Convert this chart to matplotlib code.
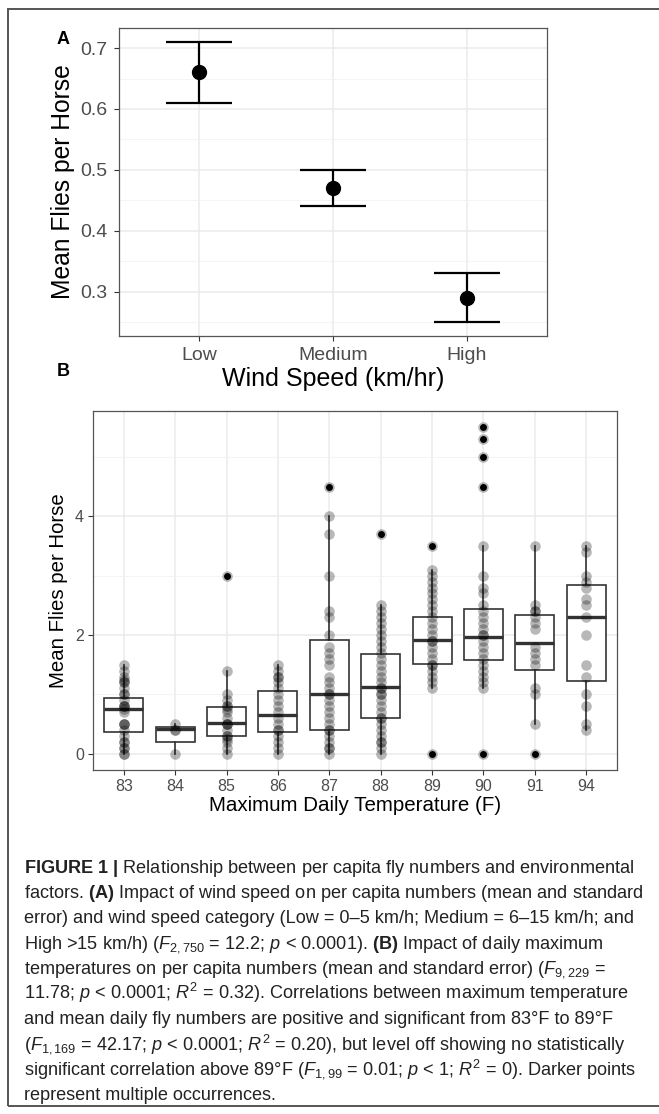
import matplotlib

matplotlib.use("Agg")
import matplotlib.pyplot as plt
import numpy as np
from matplotlib.patches import Rectangle

# panel A: wind speed
WIND_CATEGORIES = ["Low", "Medium", "High"]
WIND_MEAN = [0.66, 0.47, 0.29]
WIND_LOWER = [0.61, 0.44, 0.25]
WIND_UPPER = [0.71, 0.50, 0.33]

# panel B: max daily temperature
TEMPERATURES = ["83", "84", "85", "86", "87", "88", "89", "90", "91", "94"]

FLIES_83 = [0, 0, 0.1, 0.1, 0.2, 0.2, 0.3, 0.4, 0.5, 0.5, 0.5, 0.7, 0.75, 0.8, 0.8,
            0.8, 0.9, 1.0, 1.0, 1.1, 1.2, 1.2, 1.25, 1.3, 1.4, 1.5]
FLIES_84 = [0, 0.4, 0.4, 0.5]
FLIES_85 = [0, 0.1, 0.2, 0.25, 0.3, 0.3, 0.4, 0.5, 0.5, 0.5, 0.6, 0.7, 0.75, 0.8, 0.8,
            0.9, 1.0, 1.4, 3.0]
FLIES_86 = [0, 0.1, 0.2, 0.3, 0.4, 0.4, 0.5, 0.6, 0.7, 0.8, 0.9, 1.0, 1.1, 1.2, 1.3,
            1.3, 1.4, 1.5]
FLIES_87 = [0, 0.1, 0.1, 0.2, 0.3, 0.4, 0.4, 0.5, 0.6, 0.7, 0.8, 0.9, 1.0, 1.0, 1.1,
            1.2, 1.3, 1.5, 1.6, 1.7, 1.8, 2.0, 2.3, 2.4, 3.0, 3.7, 4.0, 4.5]
FLIES_88 = [0, 0.1, 0.2, 0.2, 0.3, 0.4, 0.5, 0.6, 0.6, 0.7, 0.8, 0.9, 1.0, 1.0, 1.1,
            1.1, 1.2, 1.3, 1.4, 1.5, 1.6, 1.7, 1.8, 1.9, 2.0, 2.1, 2.2, 2.3, 2.4, 2.5, 3.7]
FLIES_89 = [0, 1.1, 1.2, 1.3, 1.4, 1.5, 1.5, 1.6, 1.7, 1.8, 1.9, 1.9, 2.0, 2.1, 2.2,
            2.3, 2.4, 2.5, 2.6, 2.7, 2.8, 2.9, 3.0, 3.1, 3.5]
FLIES_90 = [0, 1.1, 1.2, 1.3, 1.4, 1.5, 1.6, 1.7, 1.8, 1.9, 2.0, 2.0, 2.1, 2.2, 2.3,
            2.4, 2.5, 2.7, 2.8, 3.0, 3.5, 4.5, 5.0, 5.3, 5.5]
FLIES_91 = [0, 0.5, 1.0, 1.1, 1.5, 1.6, 1.7, 1.8, 2.1, 2.2, 2.3, 2.4, 2.4, 2.5, 3.5]
FLIES_94 = [0.4, 0.5, 0.8, 1.0, 1.3, 1.5, 2.0, 2.3, 2.5, 2.6, 2.8, 2.9, 3.0, 3.4, 3.5]

BOX_Q1 = [0.37, 0.20, 0.30, 0.37, 0.40, 0.605, 1.505, 1.58, 1.41, 1.23]
BOX_MED = [0.75, 0.41, 0.51, 0.66, 1.01, 1.12, 1.92, 1.96, 1.86, 2.31]
BOX_Q3 = [0.93, 0.45, 0.785, 1.055, 1.91, 1.68, 2.31, 2.43, 2.34, 2.84]
WHISK_LO = [0, 0, 0, 0, 0, 0, 1.1, 1.1, 0.5, 0.4]
WHISK_HI = [1.5, 0.5, 1.4, 1.5, 4.0, 2.5, 3.1, 3.5, 3.5, 3.5]
OUTLIERS = [[], [], [3.0], [], [4.5], [3.7], [0, 3.5], [0, 4.5, 5.0, 5.3, 5.5], [0], []]

CAPTION = [
    r"$\mathbf{FIGURE\ 1\ |}$ Relationship between per capita fly numbers and environmental",
    r"factors. $\mathbf{(A)}$ Impact of wind speed on per capita numbers (mean and standard",
    "error) and wind speed category (Low = 0–5 km/h; Medium = 6–15 km/h; and",
    r"High >15 km/h) ($F_{2,750}$ = 12.2; $p$ < 0.0001). $\mathbf{(B)}$ Impact of daily maximum",
    r"temperatures on per capita numbers (mean and standard error) ($F_{9,229}$ =",
    r"11.78; $p$ < 0.0001; $R^2$ = 0.32). Correlations between maximum temperature",
    "and mean daily fly numbers are positive and significant from 83°F to 89°F",
    r"($F_{1,169}$ = 42.17; $p$ < 0.0001; $R^2$ = 0.20), but level off showing no statistically",
    r"significant correlation above 89°F ($F_{1,99}$ = 0.01; $p$ < 1; $R^2$ = 0). Darker points",
    "represent multiple occurrences.",
]

W, H = 659, 1114
GRID = "#EBEBEB"
DARK = "#333333"
TICK = "#4D4D4D"

plt.rcParams["font.family"] = ["Liberation Sans", "DejaVu Sans"]
plt.rcParams["mathtext.fontset"] = "custom"
plt.rcParams["mathtext.rm"] = "Liberation Sans"
plt.rcParams["mathtext.it"] = "Liberation Sans:italic"
plt.rcParams["mathtext.bf"] = "Liberation Sans:bold"


def box(left, top, right, bottom):
    return [left / W, 1 - bottom / H, (right - left) / W, (bottom - top) / H]


def style_axes(ax, tick_size, pad):
    for spine in ax.spines.values():
        spine.set_color("#555555")
        spine.set_linewidth(0.9)
    ax.tick_params(which="major", length=3.6, width=0.8, color=DARK,
                   labelcolor=TICK, labelsize=tick_size, pad=pad)
    ax.tick_params(which="minor", length=0)
    ax.grid(which="major", color=GRID, linewidth=1.1)
    ax.grid(which="minor", axis="y", color="#F2F2F2", linewidth=0.6)
    ax.set_axisbelow(True)


fig = plt.figure(figsize=(W / 100, H / 100), dpi=100)

# outer frame, open on the right edge
fig.add_artist(Rectangle((8 / W, 1 - 1106 / H), 1.0, (1106 - 9) / H,
                         transform=fig.transFigure, fill=False,
                         edgecolor="#555555", linewidth=1.4))

# ---- panel A
ax1 = fig.add_axes(box(119, 28, 547, 336))
xa = np.arange(1, len(WIND_CATEGORIES) + 1)
yerr = [np.subtract(WIND_MEAN, WIND_LOWER), np.subtract(WIND_UPPER, WIND_MEAN)]
ax1.errorbar(xa, WIND_MEAN, yerr=yerr, fmt="o", color="black", markersize=10,
             capsize=24, capthick=1.6, elinewidth=1.6, zorder=3)
ax1.set_xlim(0.4, 3.6)
ax1.set_ylim(0.227, 0.733)
ax1.set_xticks(xa, WIND_CATEGORIES)
ax1.set_yticks([0.3, 0.4, 0.5, 0.6, 0.7], ["0.3", "0.4", "0.5", "0.6", "0.7"])
ax1.set_yticks([0.25, 0.35, 0.45, 0.55, 0.65], minor=True)
style_axes(ax1, 14, 4.5)
ax1.set_ylabel("Mean Flies per Horse", fontsize=17.7, labelpad=4)
ax1.set_xlabel("Wind Speed (km/hr)", fontsize=18, labelpad=2)
fig.text(63 / W, 1 - 39 / H, "A", fontsize=13, fontweight="bold", ha="center", va="center")
fig.text(63 / W, 1 - 371 / H, "B", fontsize=13, fontweight="bold", ha="center", va="center")

# ---- panel B
ax2 = fig.add_axes(box(93, 411, 617, 770))
flies = [FLIES_83, FLIES_84, FLIES_85, FLIES_86, FLIES_87,
         FLIES_88, FLIES_89, FLIES_90, FLIES_91, FLIES_94]
stats = []
for i in range(len(TEMPERATURES)):
    stats.append({"q1": BOX_Q1[i], "med": BOX_MED[i], "q3": BOX_Q3[i],
                  "whislo": WHISK_LO[i], "whishi": WHISK_HI[i],
                  "fliers": OUTLIERS[i]})
xb = np.arange(1, len(TEMPERATURES) + 1)
ax2.bxp(stats, positions=xb, widths=0.76, patch_artist=True, showcaps=False,
        boxprops=dict(facecolor="white", edgecolor=DARK, linewidth=1.2),
        medianprops=dict(color=DARK, linewidth=2.4),
        whiskerprops=dict(color=DARK, linewidth=1.2),
        flierprops=dict(marker="o", markerfacecolor="black", markeredgecolor="none",
                        markersize=5))
for pos, vals in zip(xb, flies):
    ax2.scatter(np.full(len(vals), pos), vals, s=58, color="black", alpha=0.28,
                linewidths=0, zorder=3)
ax2.set_xlim(0.4, 10.6)
ax2.set_ylim(-0.275, 5.775)
ax2.set_xticks(xb, TEMPERATURES)
ax2.set_yticks([0, 2, 4], ["0", "2", "4"])
ax2.set_yticks([1, 3, 5], minor=True)
style_axes(ax2, 11.5, 3)
ax2.set_ylabel("Mean Flies per Horse", fontsize=14.7, labelpad=5)
ax2.set_xlabel("Maximum Daily Temperature (F)", fontsize=14.8, labelpad=1)

# ---- caption
for i, line in enumerate(CAPTION):
    fig.text(24 / W, 1 - (873 + i * 25.2) / H, line, fontsize=13.1,
             color="#222222", ha="left", va="baseline")

fig.savefig("out.png", dpi=100)
